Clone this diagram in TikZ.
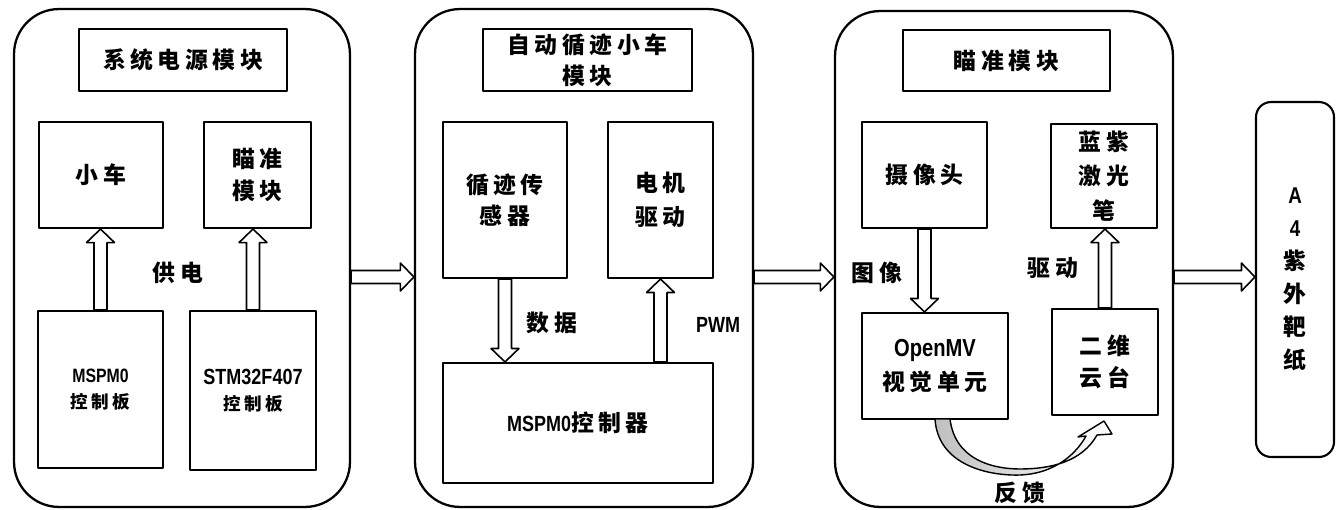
\documentclass[tikz,border=0pt]{standalone}
\usepackage{fontspec}
\setmainfont{Noto Sans CJK SC}[LetterSpace=20]
\newfontfamily\latin{Liberation Sans}[FakeStretch=0.82]
\usetikzlibrary{calc}

\begin{document}
\begin{tikzpicture}[
    x=0.02cm, y=-0.02cm,
    line join=round,
    panel/.style={rectangle, rounded corners=0.9cm, draw, line width=1.3pt, inner sep=0pt},
    box/.style={rectangle, draw, line width=1.2pt, align=center, inner sep=0pt,
        font=\fontsize{13}{17.6}\selectfont\bfseries},
    small/.style={font=\fontsize{10}{15}\selectfont\bfseries},
    lbl/.style={inner sep=0pt, font=\fontsize{13}{16}\selectfont\bfseries},
    fat/.style={draw, line width=0.9pt, to path={
        ($(\tikztostart)!0.13cm!90:(\tikztotarget)$)
        -- ($(\tikztotarget)!0.27cm!(\tikztostart)!0.13cm!90:(\tikztotarget)$)
        -- ($(\tikztotarget)!0.27cm!(\tikztostart)!0.28cm!90:(\tikztotarget)$)
        -- (\tikztotarget)
        -- ($(\tikztotarget)!0.27cm!(\tikztostart)!0.28cm!-90:(\tikztotarget)$)
        -- ($(\tikztotarget)!0.27cm!(\tikztostart)!0.13cm!-90:(\tikztotarget)$)
        -- ($(\tikztostart)!0.13cm!-90:(\tikztotarget)$) -- cycle}}
]
\useasboundingbox (0,0) rectangle (1336,510);

% three module panels and the target sheet
\node[panel, minimum width=6.72cm, minimum height=9.96cm] (p1) at (182,258) {};
\node[panel, minimum width=6.76cm, minimum height=9.96cm] (p2) at (584,258) {};
\node[panel, minimum width=6.76cm, minimum height=9.92cm] (p3) at (1004,259) {};
\node[box, rounded corners=0.3cm, minimum width=1.56cm, minimum height=7.1cm,
    font=\fontsize{13}{18.8}\selectfont\bfseries] (goal) at (1295,279.5)
    {{\latin A}\\{\latin 4}\\紫\\外\\靶\\纸};

% power module
\node[box, minimum width=4.16cm, minimum height=1.24cm] (t1) at (183,60) {系统电源模块};
\node[box, minimum width=2.48cm, minimum height=2.12cm] (cart) at (101,175) {小车};
\node[box, minimum width=2.14cm, minimum height=2.12cm, font=\fontsize{13}{18.5}\selectfont\bfseries] (aim) at (257.5,175) {瞄准\\模块};
\node[box, minimum width=2.5cm, minimum height=3.14cm, small] (brd1) at (100.5,389.5) {{\latin\fontsize{11}{15}\selectfont MSPM0}\\控制板};
\node[box, minimum width=2.52cm, minimum height=3.18cm, small] (brd2) at (253,390.5) {{\latin\fontsize{12.5}{15}\selectfont STM32F407}\\控制板};

% tracking car module
\node[box, minimum width=4.18cm, minimum height=1.24cm] (t2) at (587.5,60) {自动循迹小车\\模块};
\node[box, minimum width=2.48cm, minimum height=3.12cm] (sens) at (505,200) {循迹传\\感器};
\node[box, minimum width=2.1cm, minimum height=3.12cm, font=\fontsize{13}{19}\selectfont\bfseries] (motor) at (660.5,200) {电机\\驱动};
\node[box, minimum width=5.4cm, minimum height=2.4cm] (ctrl) at (578,423) {{\latin\fontsize{12.5}{15}\selectfont MSPM0}控制器};

% aiming module
\node[box, minimum width=4.14cm, minimum height=1.22cm] (t3) at (1006.5,60.5) {瞄准模块};
\node[box, minimum width=2.5cm, minimum height=2.12cm] (cam) at (924.5,175) {摄像头};
\node[box, minimum width=2.12cm, minimum height=2.08cm, font=\fontsize{13}{19.5}\selectfont\bfseries] (laser) at (1104,176) {蓝紫\\激光\\笔};
\node[box, minimum width=2.92cm, minimum height=2.12cm, font=\fontsize{13}{19.5}\selectfont\bfseries] (omv) at (935,366) {{\latin\fontsize{14}{15}\selectfont OpenMV}\\视觉单元};
\node[box, minimum width=2.12cm, minimum height=2.12cm, font=\fontsize{13}{18.5}\selectfont\bfseries] (gim) at (1105,362) {二维\\云台};

% labels
\node[lbl] (l1) at (178,273) {供电};
\node[lbl] (l2) at (552,323) {数据};
\node[lbl, font=\latin\fontsize{12.5}{15}\selectfont\bfseries] (l3) at (718,325) {PWM};
\node[lbl] (l4) at (877,273) {图像};
\node[lbl] (l5) at (1053,268) {驱动};
\node[lbl] (l6) at (1020,493) {反馈};

% hollow arrows
\coordinate (lvl) at (0,277);
\draw[fat] (brd1.north) to (brd1.north |- cart.south);
\draw[fat] (brd2.north) to (brd2.north |- aim.south);
\draw[fat] (sens.south) to (sens.south |- ctrl.north);
\draw[fat] (motor.south |- ctrl.north) to (motor.south);
\draw[fat] (cam.south) to (cam.south |- omv.north);
\draw[fat] (gim.north) to (gim.north |- laser.south);
\draw[fat] (p1.east |- lvl) to (p2.west |- lvl);
\draw[fat] (p2.east |- lvl) to (p3.west |- lvl);
\draw[fat] (p3.east |- lvl) to (goal.west |- lvl);

% curved feedback arrow
\draw[line width=0.8pt, left color=gray!50, middle color=white, right color=white]
    (935,419) .. controls (938,466) and (990,476) .. (1020,475)
    .. controls (1050,474) and (1074,458) .. (1086,436)
    -- (1078,437) -- (1104,421) -- (1112,434) -- (1097,435)
    .. controls (1082,462) and (1050,469) .. (1020,469)
    .. controls (993,469) and (955,460) .. (950,419) -- cycle;
\end{tikzpicture}
\end{document}
